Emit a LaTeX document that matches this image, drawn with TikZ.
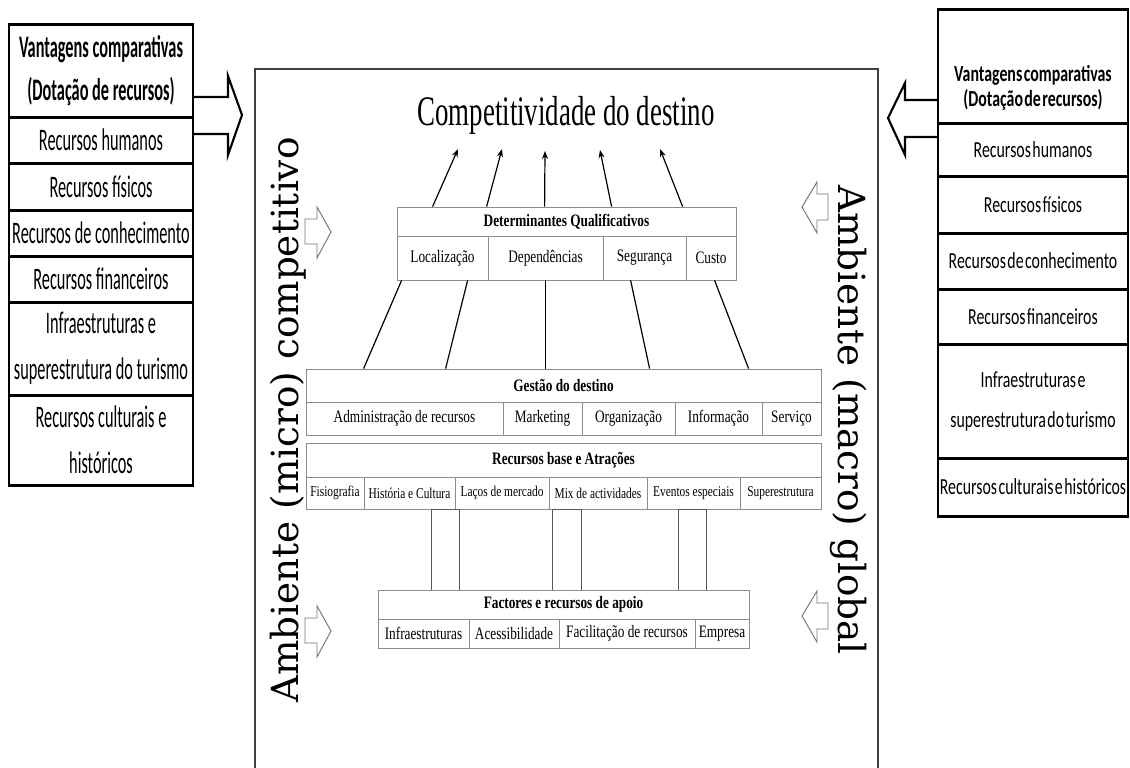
\documentclass[tikz,border=0pt]{standalone}
\usepackage{fontspec}
\setmainfont{Liberation Serif}
\newfontfamily\lcolfont[FakeStretch=0.52]{Carlito}
\newfontfamily\rcolfont[FakeStretch=0.69,WordSpace=0.4]{Carlito}
\newfontfamily\boxfont[FakeStretch=0.76]{Liberation Serif}
\newfontfamily\headfont[FakeStretch=0.64]{Liberation Serif}
\newfontfamily\envfont{DejaVu Serif}
\usetikzlibrary{arrows.meta,calc}

% cell: [style]{name}{x1}{y1}{x2}{y2}{text}, in pixels
\newcommand{\tcell}[7][]{\node[cellbox, #1, minimum width={(#5-#3)*0.75pt}, minimum height={(#6-#4)*0.75pt}] (#2) at ({(#3+#5)/2},{(#4+#6)/2}) {#7};}

\tikzset{
  cellbox/.style={draw, inner sep=0pt, align=center},
  lcol/.style={line width=1pt, font=\lcolfont\fontsize{23.5}{34.5}\selectfont},
  rcol/.style={line width=1pt, font=\rcolfont\fontsize{17.25}{30}\selectfont},
  qbox/.style={draw=black!45, line width=0.6pt, font=\boxfont\fontsize{13.1}{15}\selectfont},
  qhead/.style={qbox, font=\boxfont\bfseries\fontsize{13.1}{15}\selectfont},
  qsmall/.style={qbox, font=\boxfont\fontsize{11.25}{13}\selectfont},
  pillar/.style={draw=black!65, line width=0.7pt},
  thickrule/.style={line width=2.2pt},
  bigarrow/.style={draw, line width=1.6pt, fill=white, line join=miter},
  smallarrow/.style={draw=black!55, line width=0.7pt, line join=miter},
  upline/.style={line width=0.9pt, -{Stealth[length=6pt,width=4.5pt]}},
  tie/.style={line width=0.9pt},
  envtext/.style={font=\envfont\fontsize{28}{30}\selectfont, anchor=base},
}

\begin{document}
\begin{tikzpicture}[x=0.75pt, y=-0.75pt]
\useasboundingbox (0,0) rectangle (1130,767);

% frame
\draw[line width=0.9pt, black!75] (255,770) -- (255,69) -- (878,69) -- (878,770);

% big arrows
\draw[bigarrow] (193,97) -- (228,97) -- (228,76) -- (242,115) -- (228,155) -- (228,134) -- (193,134);
\draw[bigarrow] (938,100) -- (905,100) -- (905,83) -- (888,118) -- (905,155) -- (905,137) -- (938,137);

% left column
\tcell[lcol, font=\lcolfont\bfseries\fontsize{23.5}{32.25}\selectfont]{lv}{9}{25}{193}{117}{Vantagens comparativas\\(Dotação de recursos)}
\tcell[lcol]{lh}{9}{117}{193}{163}{Recursos humanos}
\tcell[lcol]{lf}{9}{163}{193}{210}{Recursos físicos}
\tcell[lcol]{lk}{9}{210}{193}{256}{Recursos de conhecimento}
\tcell[lcol]{lm}{9}{256}{193}{302}{Recursos financeiros}
\tcell[lcol]{li}{9}{302}{193}{395}{Infraestruturas e\\superestrutura do turismo}
\tcell[lcol]{lc}{9}{395}{193}{485}{Recursos culturais e\\históricos}
\draw[thickrule] (lv.north west) -- (lv.north east);
\foreach \n in {lv,lh,lf,lk,lm,li,lc}
  \draw[thickrule] (\n.south west) -- (\n.south east);

% right column
\tcell[rcol]{rv}{938}{10}{1128}{123}{}
\node[font=\rcolfont\bfseries\fontsize{17.25}{18.75}\selectfont, align=center] (rvtext) at (1033,88) {Vantagens comparativas\\(Dotação de recursos)};
\tcell[rcol]{rh}{938}{123}{1128}{176}{Recursos humanos}
\tcell[rcol]{rf}{938}{176}{1128}{233}{Recursos físicos}
\tcell[rcol]{rk}{938}{233}{1128}{289}{Recursos de conhecimento}
\tcell[rcol]{rm}{938}{289}{1128}{344}{Recursos financeiros}
\tcell[rcol]{ri}{938}{344}{1128}{458}{Infraestruturas e\\superestrutura do turismo}
\tcell[rcol]{rc}{938}{458}{1128}{516}{Recursos culturais e históricos}
\draw[thickrule] (rv.north west) -- (rv.north east);
\foreach \n in {rv,rh,rf,rk,rm,ri,rc}
  \draw[thickrule] (\n.south west) -- (\n.south east);

% environment
\node[envtext, rotate=90] (micro) at (298,420) {Ambiente (micro) competitivo};
\node[envtext, rotate=-90] (macro) at (838,420) {Ambiente (macro) global};
\foreach \cy in {232,631}
  \draw[smallarrow, shift={(331,\cy)}] (-26,-13) -- (-14,-13) -- (-14,-25) -- (0,0) -- (-14,26) -- (-14,12) -- (-26,12) -- cycle;
\foreach \cy in {207,616}
  \draw[smallarrow, shift={(802,\cy)}] (26,-13) -- (15,-13) -- (15,-25) -- (0,0) -- (15,26) -- (15,13) -- (26,13) -- cycle;

% goal
\node[font=\headfont\fontsize{31.5}{36}\selectfont, anchor=base] (goal) at (566,125) {Competitividade do destino};

% qualifying determinants
\tcell[qhead]{dq}{397}{207}{736}{236}{Determinantes Qualificativos}
\tcell[qbox]{dq1}{397}{236}{488}{280}{Localização}
\tcell[qbox]{dq2}{488}{236}{603}{280}{Dependências}
\tcell[qbox]{dq3}{603}{236}{686}{280}{Segurança}
\tcell[qbox]{dq4}{686}{236}{736}{280}{Custo}

% destination management
\tcell[qhead]{gd}{306}{369}{821}{402}{Gestão do destino}
\tcell[qbox]{gd1}{306}{402}{503}{435}{Administração de recursos}
\tcell[qbox]{gd2}{503}{402}{582}{435}{Marketing}
\tcell[qbox]{gd3}{582}{402}{675}{435}{Organização}
\tcell[qbox]{gd4}{675}{402}{762}{435}{Informação}
\tcell[qbox]{gd5}{762}{402}{821}{435}{Serviço}

% core resources
\tcell[qhead]{rb}{306}{443}{821}{477}{Recursos base e Atrações}
\tcell[qsmall]{rb1}{306}{477}{364}{509}{Fisiografia}
\tcell[qsmall]{rb2}{364}{477}{455}{509}{História e Cultura}
\tcell[qsmall]{rb3}{455}{477}{549}{509}{Laços de mercado}
\tcell[qsmall]{rb4}{549}{477}{647}{509}{Mix de actividades}
\tcell[qsmall]{rb5}{647}{477}{740}{509}{Eventos especiais}
\tcell[qsmall]{rb6}{740}{477}{821}{509}{Superestrutura}

% pillars
\tcell[pillar]{p1}{431}{509}{459}{590}{}
\tcell[pillar]{p2}{552}{509}{581}{590}{}
\tcell[pillar]{p3}{678}{509}{706}{590}{}

% supporting factors
\tcell[qhead]{fr}{378}{590}{749}{619}{Factores e recursos de apoio}
\tcell[qbox]{fr1}{378}{619}{469}{648}{Infraestruturas}
\tcell[qbox]{fr2}{469}{619}{559}{648}{Acessibilidade}
\tcell[qbox]{fr3}{559}{619}{695}{648}{Facilitação de recursos}
\tcell[qbox]{fr4}{695}{619}{749}{648}{Empresa}

% arrows to the goal
\coordinate (t1) at (458,149);
\coordinate (t2) at (502,149);
\coordinate (t3) at (545,151);
\coordinate (t4) at (600,150);
\coordinate (t5) at (660,149);
\draw[upline] ($(dq.north west)+(36,0)$) -- (t1);
\draw[upline] ($(dq.north west)+(90,0)$) -- (t2);
\draw[upline] ($(dq.north west)+(148,0)$) -- (t3);
\draw[upline] ($(dq.north west)+(215,0)$) -- (t4);
\draw[upline] ($(dq.north west)+(286,0)$) -- (t5);

% ties
\draw[tie] ($(dq1.south west)+(5,0)$) -- ($(gd.north west)+(58,0)$);
\draw[tie] ($(dq1.south west)+(71,0)$) -- ($(gd.north west)+(140,0)$);
\draw[tie] ($(dq1.south west)+(149,0)$) -- ($(gd.north west)+(240,0)$);
\draw[tie] ($(dq1.south west)+(234,0)$) -- ($(gd.north west)+(344,0)$);
\draw[tie] ($(dq1.south west)+(318,0)$) -- ($(gd.north west)+(443,0)$);
\end{tikzpicture}
\end{document}
